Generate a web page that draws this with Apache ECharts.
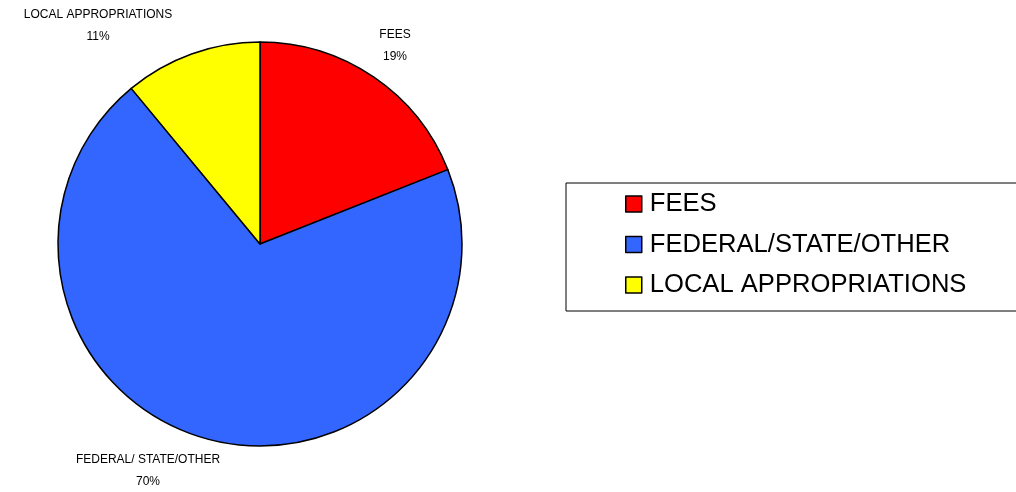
<!DOCTYPE html>
<html>
<head>
<meta charset="utf-8">
<script src="https://cdn.jsdelivr.net/npm/echarts@6/dist/echarts.min.js"></script>
<style>
  html, body { margin: 0; padding: 0; background: #fff; }
  #chart { width: 1016px; height: 492px; }
</style>
</head>
<body>
<div id="chart"></div>
<script>
// Revenue sources (percent of total)
const categories = ['FEES', 'FEDERAL/STATE/OTHER', 'LOCAL APPROPRIATIONS'];
const labelNames = ['FEES', 'FEDERAL/ STATE/OTHER', 'LOCAL APPROPRIATIONS'];
const shares = [19, 70, 11];
const sliceColors = ['#FF0000', '#3366FF', '#FFFF00'];

// Where each slice's caption sits (centre of the two-line label block)
const labelSpots = [[395, 46], [148, 471], [98, 26]];

const chart = echarts.init(document.getElementById('chart'), null, { renderer: 'canvas' });

chart.setOption({
  animation: false,
  backgroundColor: '#ffffff',
  textStyle: { fontFamily: 'Liberation Sans, Arial, sans-serif' },
  graphic: [{
    type: 'rect',
    shape: { x: 566, y: 183, width: 470, height: 128 },
    style: { fill: '#ffffff', stroke: '#000000', lineWidth: 1 },
    z: -1
  }],
  legend: {
    orient: 'vertical',
    left: 620,
    top: 186,
    itemWidth: 16,
    itemHeight: 16,
    itemGap: 14.5,
    icon: 'rect',
    data: categories,
    itemStyle: { borderColor: '#000000', borderWidth: 1.5 },
    textStyle: {
      fontSize: 25.6,
      lineHeight: 26,
      color: '#000000',
      fontFamily: 'Liberation Sans, Arial, sans-serif',
      padding: [0, 0, 0, 3]
    }
  },
  series: [{
    type: 'pie',
    center: [260, 244],
    radius: [0, 202],
    startAngle: 90,
    clockwise: true,
    avoidLabelOverlap: false,
    itemStyle: { borderColor: '#000000', borderWidth: 1.5 },
    label: {
      show: true,
      position: 'outside',
      fontSize: 12,
      lineHeight: 22,
      color: '#000000',
      fontFamily: 'Liberation Sans, Arial, sans-serif',
      align: 'center',
      formatter: function (p) {
        return labelNames[p.dataIndex] + '\n' + Math.round(p.percent) + '%';
      }
    },
    labelLine: { show: false },
    labelLayout: function (params) {
      const spot = labelSpots[params.dataIndex];
      return { x: spot[0], y: spot[1], align: 'center', verticalAlign: 'middle' };
    },
    emphasis: { disabled: true },
    data: categories.map(function (name, i) {
      return { name: name, value: shares[i], itemStyle: { color: sliceColors[i] } };
    })
  }]
});
</script>
</body>
</html>
